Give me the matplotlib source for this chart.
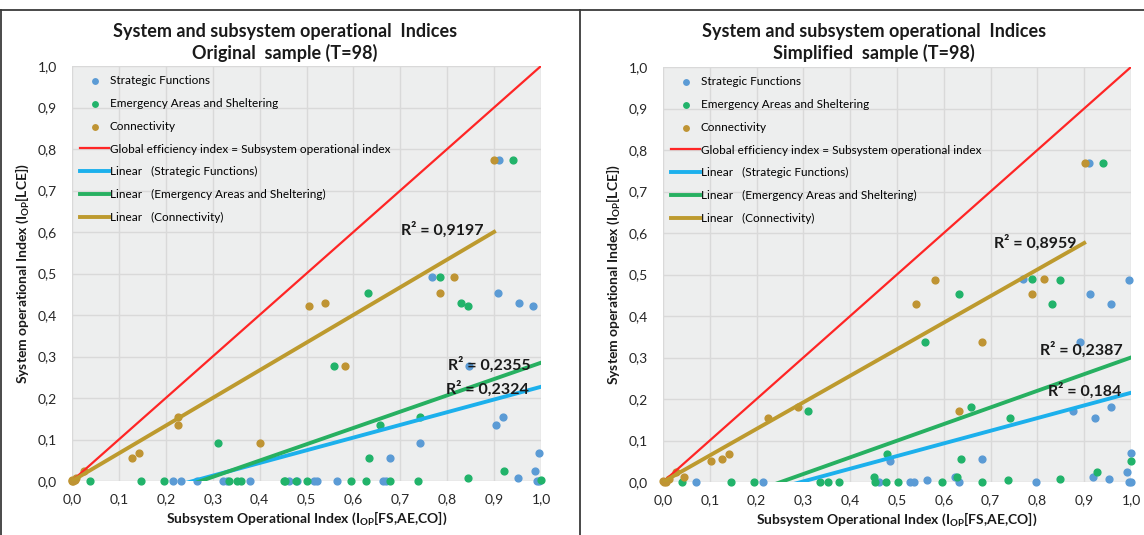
import matplotlib
matplotlib.use("Agg")
import numpy as np
import matplotlib.pyplot as plt
from matplotlib.lines import Line2D

plt.rcParams["font.family"] = ["Lato", "DejaVu Sans"]
plt.rcParams["mathtext.fontset"] = "custom"
plt.rcParams["mathtext.rm"] = "Lato"
plt.rcParams["mathtext.it"] = "Lato"
plt.rcParams["mathtext.bf"] = "Lato:bold"

# ---- Original sample (T=98) ----
orig_sf_x = [0.910, 0.768, 0.909, 0.954, 0.983, 0.847, 0.904, 0.920, 0.741, 0.996, 0.679, 0.987, 0.951,
             0.215, 0.233, 0.267, 0.321, 0.330, 0.379, 0.462, 0.479, 0.515, 0.523, 0.564, 0.664, 0.669, 0.991, 0.996]
orig_sf_y = [0.774, 0.492, 0.453, 0.428, 0.422, 0.277, 0.136, 0.155, 0.092, 0.068, 0.056, 0.024, 0.007,
             0, 0, 0, 0, 0, 0, 0, 0, 0, 0, 0, 0, 0, 0, 0]
orig_ea_x = [0.940, 0.785, 0.631, 0.829, 0.845, 0.558, 0.312, 0.657, 0.741, 0.634, 0.921, 0.845, 1.0,
             0.039, 0.148, 0.197, 0.334, 0.352, 0.360, 0.451, 0.455, 0.477, 0.502, 0.594, 0.627, 0.679, 0.737]
orig_ea_y = [0.774, 0.492, 0.453, 0.428, 0.422, 0.277, 0.092, 0.136, 0.155, 0.056, 0.024, 0.007, 0.003,
             0, 0, 0, 0, 0, 0, 0, 0, 0, 0, 0, 0, 0, 0]
orig_co_x = [0.900, 0.814, 0.785, 0.506, 0.540, 0.583, 0.401, 0.226, 0.226, 0.127, 0.142, 0.025, 0.008,
             0.0, 0.003, 0.006, 0.0]
orig_co_y = [0.774, 0.492, 0.453, 0.422, 0.428, 0.277, 0.092, 0.155, 0.136, 0.056, 0.068, 0.024, 0.008,
             0.0, 0.0, 0.002, 0.003]
# trendlines: slope, intercept, x range
orig_trend = {"sf": (0.306, -0.079, 0.0, 1.0), "ea": (0.393, -0.108, 0.0, 1.0), "co": (0.667, 0.0, 0.0, 0.90)}
orig_r2 = {"sf": "0,2324", "ea": "0,2355", "co": "0,9197"}

# ---- Simplified sample (T=98) ----
simp_sf_x = [0.910, 0.769, 0.996, 0.912, 0.958, 0.892, 0.958, 0.923, 0.877, 0.485, 0.681, 1.0, 0.992,
             0.918, 0.954, 0.623, 0.565,
             0.071, 0.213, 0.462, 0.528, 0.537, 0.633, 0.798, 0.996, 1.0]
simp_sf_y = [0.769, 0.488, 0.486, 0.452, 0.428, 0.338, 0.181, 0.155, 0.172, 0.051, 0.055, 0.069, 0.025,
             0.012, 0.007, 0.013, 0.004,
             0, 0, 0, 0, 0, 0, 0, 0, 0]
simp_ea_x = [0.940, 0.788, 0.848, 0.632, 0.832, 0.559, 0.309, 0.659, 0.742, 0.478, 0.637, 0.450, 0.927,
             0.848, 1.0, 0.628, 0.738,
             0.041, 0.145, 0.195, 0.335, 0.352, 0.377, 0.452, 0.477, 0.502, 0.597, 0.682]
simp_ea_y = [0.769, 0.490, 0.486, 0.452, 0.428, 0.338, 0.172, 0.181, 0.155, 0.068, 0.055, 0.012, 0.025,
             0.007, 0.051, 0.011, 0.005,
             0, 0, 0, 0, 0, 0, 0, 0, 0, 0, 0]
simp_co_x = [0.902, 0.815, 0.581, 0.788, 0.540, 0.682, 0.288, 0.225, 0.632, 0.142, 0.127, 0.102, 0.027,
             0.045, 0.012, 0.002, 0.007, 0.0]
simp_co_y = [0.769, 0.490, 0.486, 0.452, 0.428, 0.338, 0.181, 0.155, 0.172, 0.068, 0.055, 0.051, 0.025,
             0.011, 0.008, 0.0, 0.0, 0.003]
simp_trend = {"sf": (0.305, -0.090, 0.0, 1.0), "ea": (0.401, -0.101, 0.0, 1.0), "co": (0.640, 0.0, 0.0, 0.90)}
simp_r2 = {"sf": "0,184", "ea": "0,2387", "co": "0,8959"}

ticks = np.arange(0, 1.01, 0.1)
tick_labels = ["0,0", "0,1", "0,2", "0,3", "0,4", "0,5", "0,6", "0,7", "0,8", "0,9", "1,0"]

dot_colors = {"sf": "#5B9BD5", "ea": "#21B36A", "co": "#BF9433"}
trend_colors = {"sf": "#1CB0EC", "ea": "#27B061", "co": "#BD9A2E"}
names = {"sf": "Strategic Functions", "ea": "Emergency Areas and Sheltering", "co": "Connectivity"}


def draw_panel(ax, pts, trend, r2, r2_pos):
    ax.set_facecolor("#EDEEEE")
    ax.set_xlim(0, 1)
    ax.set_ylim(0, 1)
    ax.set_xticks(ticks)
    ax.set_yticks(ticks)
    ax.set_xticklabels(tick_labels)
    ax.set_yticklabels(tick_labels)
    ax.tick_params(length=0, labelsize=10, colors="#262626")
    ax.tick_params(axis="x", pad=9)
    ax.tick_params(axis="y", pad=11)
    ax.grid(True, color="#D9D9D9", linewidth=1.0)
    ax.set_axisbelow(True)
    for s in ax.spines.values():
        s.set_visible(False)

    handles = []
    for key in ["sf", "ea", "co"]:
        x, y = pts[key]
        h = ax.scatter(x, y, s=24, color=dot_colors[key], clip_on=False, zorder=3, label=names[key])
        handles.append(h)

    hr, = ax.plot([0, 1], [0, 1], color="#FF2525", linewidth=1.6, zorder=4,
                  label="Global efficiency index = Subsystem operational index")
    handles.append(hr)

    for key in ["sf", "ea", "co"]:
        a, b, x0, x1 = trend[key]
        xs = np.array([x0, x1])
        h, = ax.plot(xs, a * xs + b, color=trend_colors[key], linewidth=2.8, zorder=4,
                     label="Linear   (" + names[key] + ")")
        handles.append(h)

    for key in ["sf", "ea", "co"]:
        ax.text(r2_pos[key][0], r2_pos[key][1], "R² = " + r2[key], ha="center", va="center",
                fontsize=11.5, fontweight="bold", color="#1a1a1a", zorder=5)

    ax.legend(handles=handles, loc="upper left", bbox_to_anchor=(0.018, 0.978), frameon=False,
              fontsize=8.5, handlelength=2.4, handletextpad=0.1, labelspacing=1.0, borderpad=0,
              borderaxespad=0, scatterpoints=1, markerscale=0.8)

    ax.set_xlabel(r"Subsystem Operational Index ($\mathbf{I_{OP}}$[FS,AE,CO])", fontsize=10,
                  fontweight="bold", labelpad=3, color="#1a1a1a")
    ax.set_ylabel(r"System operational Index ($\mathbf{I_{OP}}$[LCE])", fontsize=10,
                  fontweight="bold", labelpad=5, color="#1a1a1a")


fig = plt.figure(figsize=(11.44, 5.35), dpi=100)
ax1 = fig.add_axes([72 / 1144, 1 - 481 / 535, 469 / 1144, 415 / 535])
ax2 = fig.add_axes([663 / 1144, 1 - 482 / 535, 468 / 1144, 415 / 535])

draw_panel(ax1,
           {"sf": (orig_sf_x, orig_sf_y), "ea": (orig_ea_x, orig_ea_y), "co": (orig_co_x, orig_co_y)},
           orig_trend, orig_r2,
           {"sf": (0.885, 0.223), "ea": (0.89, 0.281), "co": (0.79, 0.605)})
draw_panel(ax2,
           {"sf": (simp_sf_x, simp_sf_y), "ea": (simp_ea_x, simp_ea_y), "co": (simp_co_x, simp_co_y)},
           simp_trend, simp_r2,
           {"sf": (0.90, 0.221), "ea": (0.894, 0.318), "co": (0.796, 0.577)})

# titles
title_kw = dict(ha="center", va="center", fontsize=13, fontweight="bold", color="#1a1a1a")
fig.text(285 / 1144, 1 - 31 / 535, "System and subsystem operational  Indices", **title_kw)
fig.text(285 / 1144, 1 - 53 / 535, "Original  sample (T=98)", **title_kw)
fig.text(874 / 1144, 1 - 31 / 535, "System and subsystem operational  Indices", **title_kw)
fig.text(874 / 1144, 1 - 53 / 535, "Simplified  sample (T=98)", **title_kw)

# frame lines around the two chart boxes
top = 1 - 10 / 535
fig.add_artist(Line2D([0, 1], [top, top], color="#3a3a3a", linewidth=1.3))
fig.add_artist(Line2D([0.001, 0.001], [0, top], color="#3a3a3a", linewidth=1.3))
fig.add_artist(Line2D([580 / 1144, 580 / 1144], [0, top], color="#3a3a3a", linewidth=1.3))

fig.savefig("out.png", dpi=100)
